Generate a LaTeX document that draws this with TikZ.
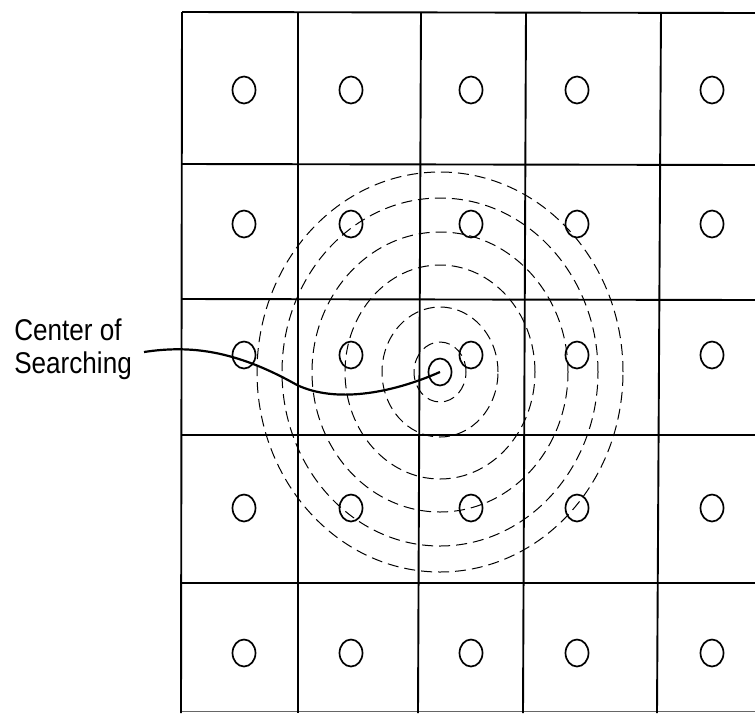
\documentclass[tikz,border=0pt]{standalone}
\usepackage{fontspec}
\setmainfont{Liberation Sans}
\usetikzlibrary{shapes.geometric}
\begin{document}
\begin{tikzpicture}[x=1pt,y=-1pt,
  gridline/.style={line width=1.9pt},
  hole/.style={draw, ellipse, line width=1.7pt, minimum width=23pt, minimum height=27pt, inner sep=0pt},
  ring/.style={line width=1pt, dash pattern=on 11pt off 6pt},
  lead/.style={line width=2.2pt},
  lbl/.style={font=\fontsize{30}{33}\selectfont, align=left, inner sep=0pt}]
\useasboundingbox (0,0) rectangle (755,713);
% grid
\draw[gridline] (182,12) -- (755,13);
\draw[gridline] (181,164) -- (755,165);
\draw[gridline] (181,299) -- (755,300);
\draw[gridline] (181,435) -- (755,435);
\draw[gridline] (181,583) -- (755,583);
\draw[line width=0.8pt, black!60] (181,711) -- (755,711);
\draw[gridline] (182,12) -- (181,713);
\draw[gridline] (298,12) -- (298,713);
\draw[gridline] (421,12) -- (418,713);
\draw[gridline] (526,12) -- (523,713);
\draw[gridline] (661,12) -- (657,713);
% holes
\foreach \r/\yy in {1/90,2/224,3/355,4/508,5/653}{
  \foreach \c/\xx in {1/244,2/351,3/471,4/577,5/712}{
    \node[hole] (c\r\c) at (\xx,\yy) {};
  }
}
% center of searching
\node[hole] (ctr) at (440,372) {};
% search rings
\foreach \a/\b in {26/30,58/65,95/107,128/140,158/174,183/200}{
  \draw[ring] (ctr.center) ellipse [x radius=\a pt, y radius=\b pt];
}
% label
\node[lbl, anchor=north east] (lbl) at (132,319) {\scalebox{0.87}[1]{Center of}\\\scalebox{0.87}[1]{Searching}};
\draw[lead] ([xshift=12pt]lbl.east |- 0,352) .. controls (190,345) and (235,350) .. (297,385)
  .. controls (335,403) and (390,394) .. (ctr.center);
\end{tikzpicture}
\end{document}
